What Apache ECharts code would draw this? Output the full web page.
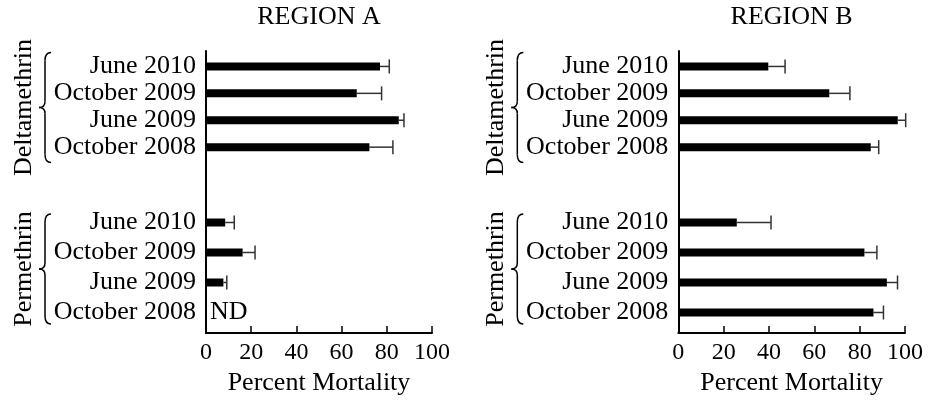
<!DOCTYPE html>
<html>
<head>
<meta charset="utf-8">
<script src="https://cdn.jsdelivr.net/npm/echarts@6/dist/echarts.min.js"></script>
<style>
html,body{margin:0;padding:0;background:#fff;}
#chart{width:928px;height:402px;}
</style>
</head>
<body>
<div id="chart"></div>
<script>
// ---------- data ----------
const categories = ['June 2010', 'October 2009', 'June 2009', 'October 2008'];
const regionTitles = ['REGION A', 'REGION B'];
const insecticides = ['Deltamethrin', 'Permethrin'];
const xName = 'Percent Mortality';
const ndText = 'ND';
const xMin = 0, xMax = 100, xInterval = 20;

// mean percent mortality and (upper) error
const deltaA    = [77.0, 66.7, 85.3, 72.3];
const deltaAErr = [4.1, 11.0, 2.3, 10.4];
const permA     = [8.5, 16.2, 7.7, null];   // null = ND
const permAErr  = [4.0, 5.5, 1.5, null];
const deltaB    = [39.7, 66.6, 96.8, 84.9];
const deltaBErr = [7.4, 9.1, 3.5, 3.5];
const permB     = [25.8, 82.1, 92.0, 86.1];
const permBErr  = [15.1, 5.5, 4.7, 4.4];

const values = [[deltaA, permA], [deltaB, permB]];
const errors = [[deltaAErr, permAErr], [deltaBErr, permBErr]];

// ---------- layout ----------
const FONT = 'Liberation Serif';
const panels = [{left: 206, width: 226}, {left: 678.3, width: 226.7}];
const frame = {top: 51, height: 282};
const groupRows = [{top: 53, height: 107.6}, {top: 207.5, height: 120}];
const braceCenters = [107.5, 269];
const braceHalf = 55;

const grid = [], xAxis = [], yAxis = [], series = [], graphic = [];

function errRender(params, api) {
  const y = api.value(0);
  const p1 = api.coord([api.value(1), y]);
  const p2 = api.coord([api.value(2), y]);
  const h = 7;
  const st = {stroke: '#333', lineWidth: 1.5};
  return {type: 'group', children: [
    {type: 'line', shape: {x1: p1[0], y1: p1[1], x2: p2[0], y2: p2[1]}, style: st},
    {type: 'line', shape: {x1: p2[0], y1: p2[1] - h, x2: p2[0], y2: p2[1] + h}, style: st}
  ]};
}

function brace(tip, vx, ex, t, c, b) {
  const st = {stroke: '#000', lineWidth: 1.5, fill: null};
  const curve = (x1, y1, cx, cy, x2, y2) => ({type: 'bezierCurve', silent: true,
    shape: {x1, y1, x2, y2, cpx1: cx, cpy1: cy}, style: st});
  const line = (x1, y1, x2, y2) => ({type: 'line', silent: true, shape: {x1, y1, x2, y2}, style: st});
  return [
    curve(ex, t, vx, t, vx, t + 8),
    line(vx, t + 8, vx, c - 6),
    curve(vx, c - 6, vx, c, tip, c),
    curve(tip, c, vx, c, vx, c + 6),
    line(vx, c + 6, vx, b - 8),
    curve(vx, b - 8, vx, b, ex, b)
  ];
}

panels.forEach((p, pi) => {
  // frame grid: axis lines, ticks, labels, name
  const fi = grid.length;
  grid.push({left: p.left, top: frame.top, width: p.width, height: frame.height});
  xAxis.push({
    gridIndex: fi, type: 'value', min: xMin, max: xMax, interval: xInterval,
    name: xName, nameLocation: 'middle', nameGap: 35,
    nameTextStyle: {fontFamily: FONT, fontSize: 26, color: '#000'},
    axisLine: {show: true, lineStyle: {color: '#000', width: 2}},
    axisTick: {show: true, inside: true, length: 7, lineStyle: {color: '#000', width: 1.5}},
    axisLabel: {fontFamily: FONT, fontSize: 24, color: '#000', margin: 8, hideOverlap: false},
    splitLine: {show: false}
  });
  yAxis.push({
    gridIndex: fi, type: 'value', min: 0, max: 1,
    axisLine: {show: true, onZero: false, lineStyle: {color: '#000', width: 2}},
    axisTick: {show: false}, axisLabel: {show: false}, splitLine: {show: false}
  });

  groupRows.forEach((r, gi) => {
    const idx = grid.length;
    grid.push({left: p.left, top: r.top, width: p.width, height: r.height});
    xAxis.push({gridIndex: idx, type: 'value', min: xMin, max: xMax, show: false});
    yAxis.push({
      gridIndex: idx, type: 'category', data: categories, inverse: true,
      axisLine: {show: false}, axisTick: {show: false},
      axisLabel: {interval: 0, hideOverlap: false, fontFamily: FONT, fontSize: 26,
                  color: '#000', margin: 10}
    });
    const vals = values[pi][gi], errs = errors[pi][gi];
    series.push({
      type: 'bar', xAxisIndex: idx, yAxisIndex: idx, barWidth: 8,
      itemStyle: {color: '#000'}, silent: true,
      data: vals.map(v => v === null ? {
        value: 0,
        label: {show: true, formatter: ndText, position: 'right', distance: 4,
                fontFamily: FONT, fontSize: 26, color: '#000'}
      } : v)
    });
    series.push({
      type: 'custom', xAxisIndex: idx, yAxisIndex: idx, silent: true,
      renderItem: errRender, encode: {x: [1, 2], y: 0},
      data: vals.map((v, i) => v === null ? null : [i, v, v + errs[i]]).filter(d => d)
    });
  });

  // title
  graphic.push({type: 'text', x: p.left + p.width / 2, y: 17, silent: true,
    style: {text: regionTitles[pi], align: 'center', verticalAlign: 'middle',
            font: '26px "' + FONT + '"', fill: '#000'}});

  // group labels + braces
  insecticides.forEach((name, gi) => {
    const c = braceCenters[gi];
    graphic.push({type: 'text', x: p.left - 182, y: c, rotation: Math.PI / 2, silent: true,
      style: {text: name, align: 'center', verticalAlign: 'middle',
              font: '26px "' + FONT + '"', fill: '#000'}});
    brace(p.left - 167, p.left - 161, p.left - 155, c - braceHalf, c, c + braceHalf)
      .forEach(el => graphic.push(el));
  });
});

const chart = echarts.init(document.getElementById('chart'), null, {renderer: 'canvas'});
chart.setOption({
  animation: false,
  backgroundColor: '#fff',
  grid, xAxis, yAxis, series, graphic
});
</script>
</body>
</html>
